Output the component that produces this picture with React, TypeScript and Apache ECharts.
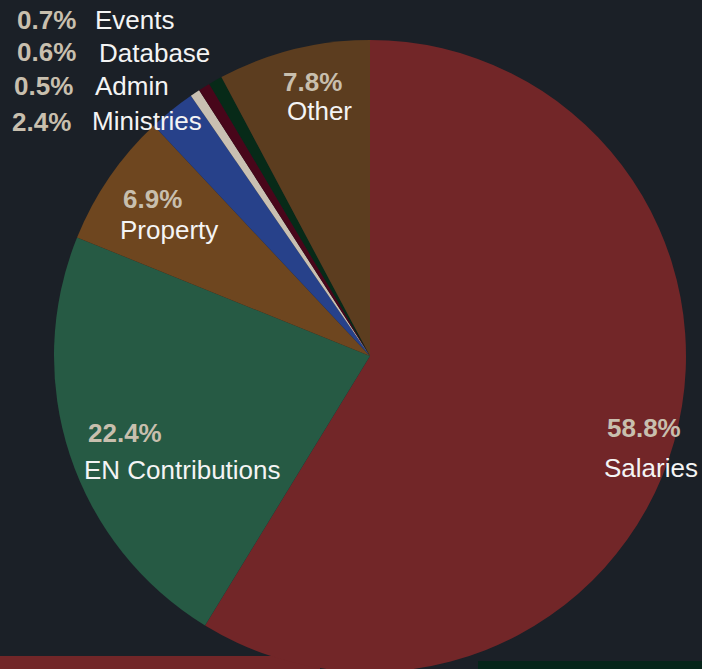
import React, { useEffect, useRef } from "react";
import * as echarts from "echarts";

const categories = ["Salaries", "EN Contributions", "Property", "Ministries", "Admin", "Database", "Events", "Other"];
const shares = [58.8, 22.4, 6.9, 2.4, 0.5, 0.6, 0.7, 7.8];
const colors = ["#722628", "#265a44", "#6e461f", "#27418a", "#c9c0b2", "#48061a", "#072a18", "#5c3d1f"];

// label anchor positions (left x, middle y) for the percent and the name texts
const pctPos = [[607, 428], [88, 433], [123, 199], [12, 122], [14, 86], [17, 52], [17, 20], [283, 82]];
const namePos = [[604, 468], [84, 470], [120, 230], [92, 121], [95, 86], [99, 53], [95, 20], [287, 111]];

const FONT = "'Liberation Sans', Arial, Helvetica, sans-serif";

export default function App() {
  const ref = useRef<HTMLDivElement>(null);
  useEffect(() => {
    if (!ref.current) return;
    const chart = echarts.init(ref.current, undefined, { renderer: "svg" });
    const data = categories.map((name, i) => ({ name, value: shares[i], itemStyle: { color: colors[i] } }));
    const ghost = categories.map((name, i) => ({ name, value: shares[i], itemStyle: { color: "rgba(0,0,0,0)" } }));
    const base = {
      type: "pie",
      center: [370, 356],
      radius: 316,
      startAngle: 90,
      clockwise: true,
      labelLine: { show: false },
      emphasis: { disabled: true },
    };
    chart.setOption({
      animation: false,
      backgroundColor: "#1b2027",
      graphic: [
        { type: "rect", shape: { x: 0, y: 656, width: 320, height: 20 }, style: { fill: "#722628" }, z: -1 },
        { type: "rect", shape: { x: 478, y: 661, width: 230, height: 20 }, style: { fill: "#06251a" }, z: -1 },
      ],
      series: [
        {
          ...base,
          data,
          label: {
            show: true,
            position: "inside",
            formatter: (p: any) => `${p.value.toFixed(1)}%`,
            color: "#c8bfae",
            fontFamily: FONT,
            fontWeight: "bold",
            fontSize: 26,
          },
          labelLayout: (p: any) => ({
            x: pctPos[p.dataIndex][0],
            y: pctPos[p.dataIndex][1],
            align: "left",
            verticalAlign: "middle",
          }),
        },
        {
          ...base,
          data: ghost,
          silent: true,
          label: {
            show: true,
            position: "inside",
            formatter: (p: any) => p.name,
            color: "#f4f4f4",
            fontFamily: FONT,
            fontSize: 26,
          },
          labelLayout: (p: any) => ({
            x: namePos[p.dataIndex][0],
            y: namePos[p.dataIndex][1],
            align: "left",
            verticalAlign: "middle",
          }),
        },
      ],
    });
    return () => chart.dispose();
  }, []);
  return (
    <div
      ref={ref}
      style={{ position: "fixed", left: 0, top: 0, width: 702, height: 669 }}
    />
  );
}
